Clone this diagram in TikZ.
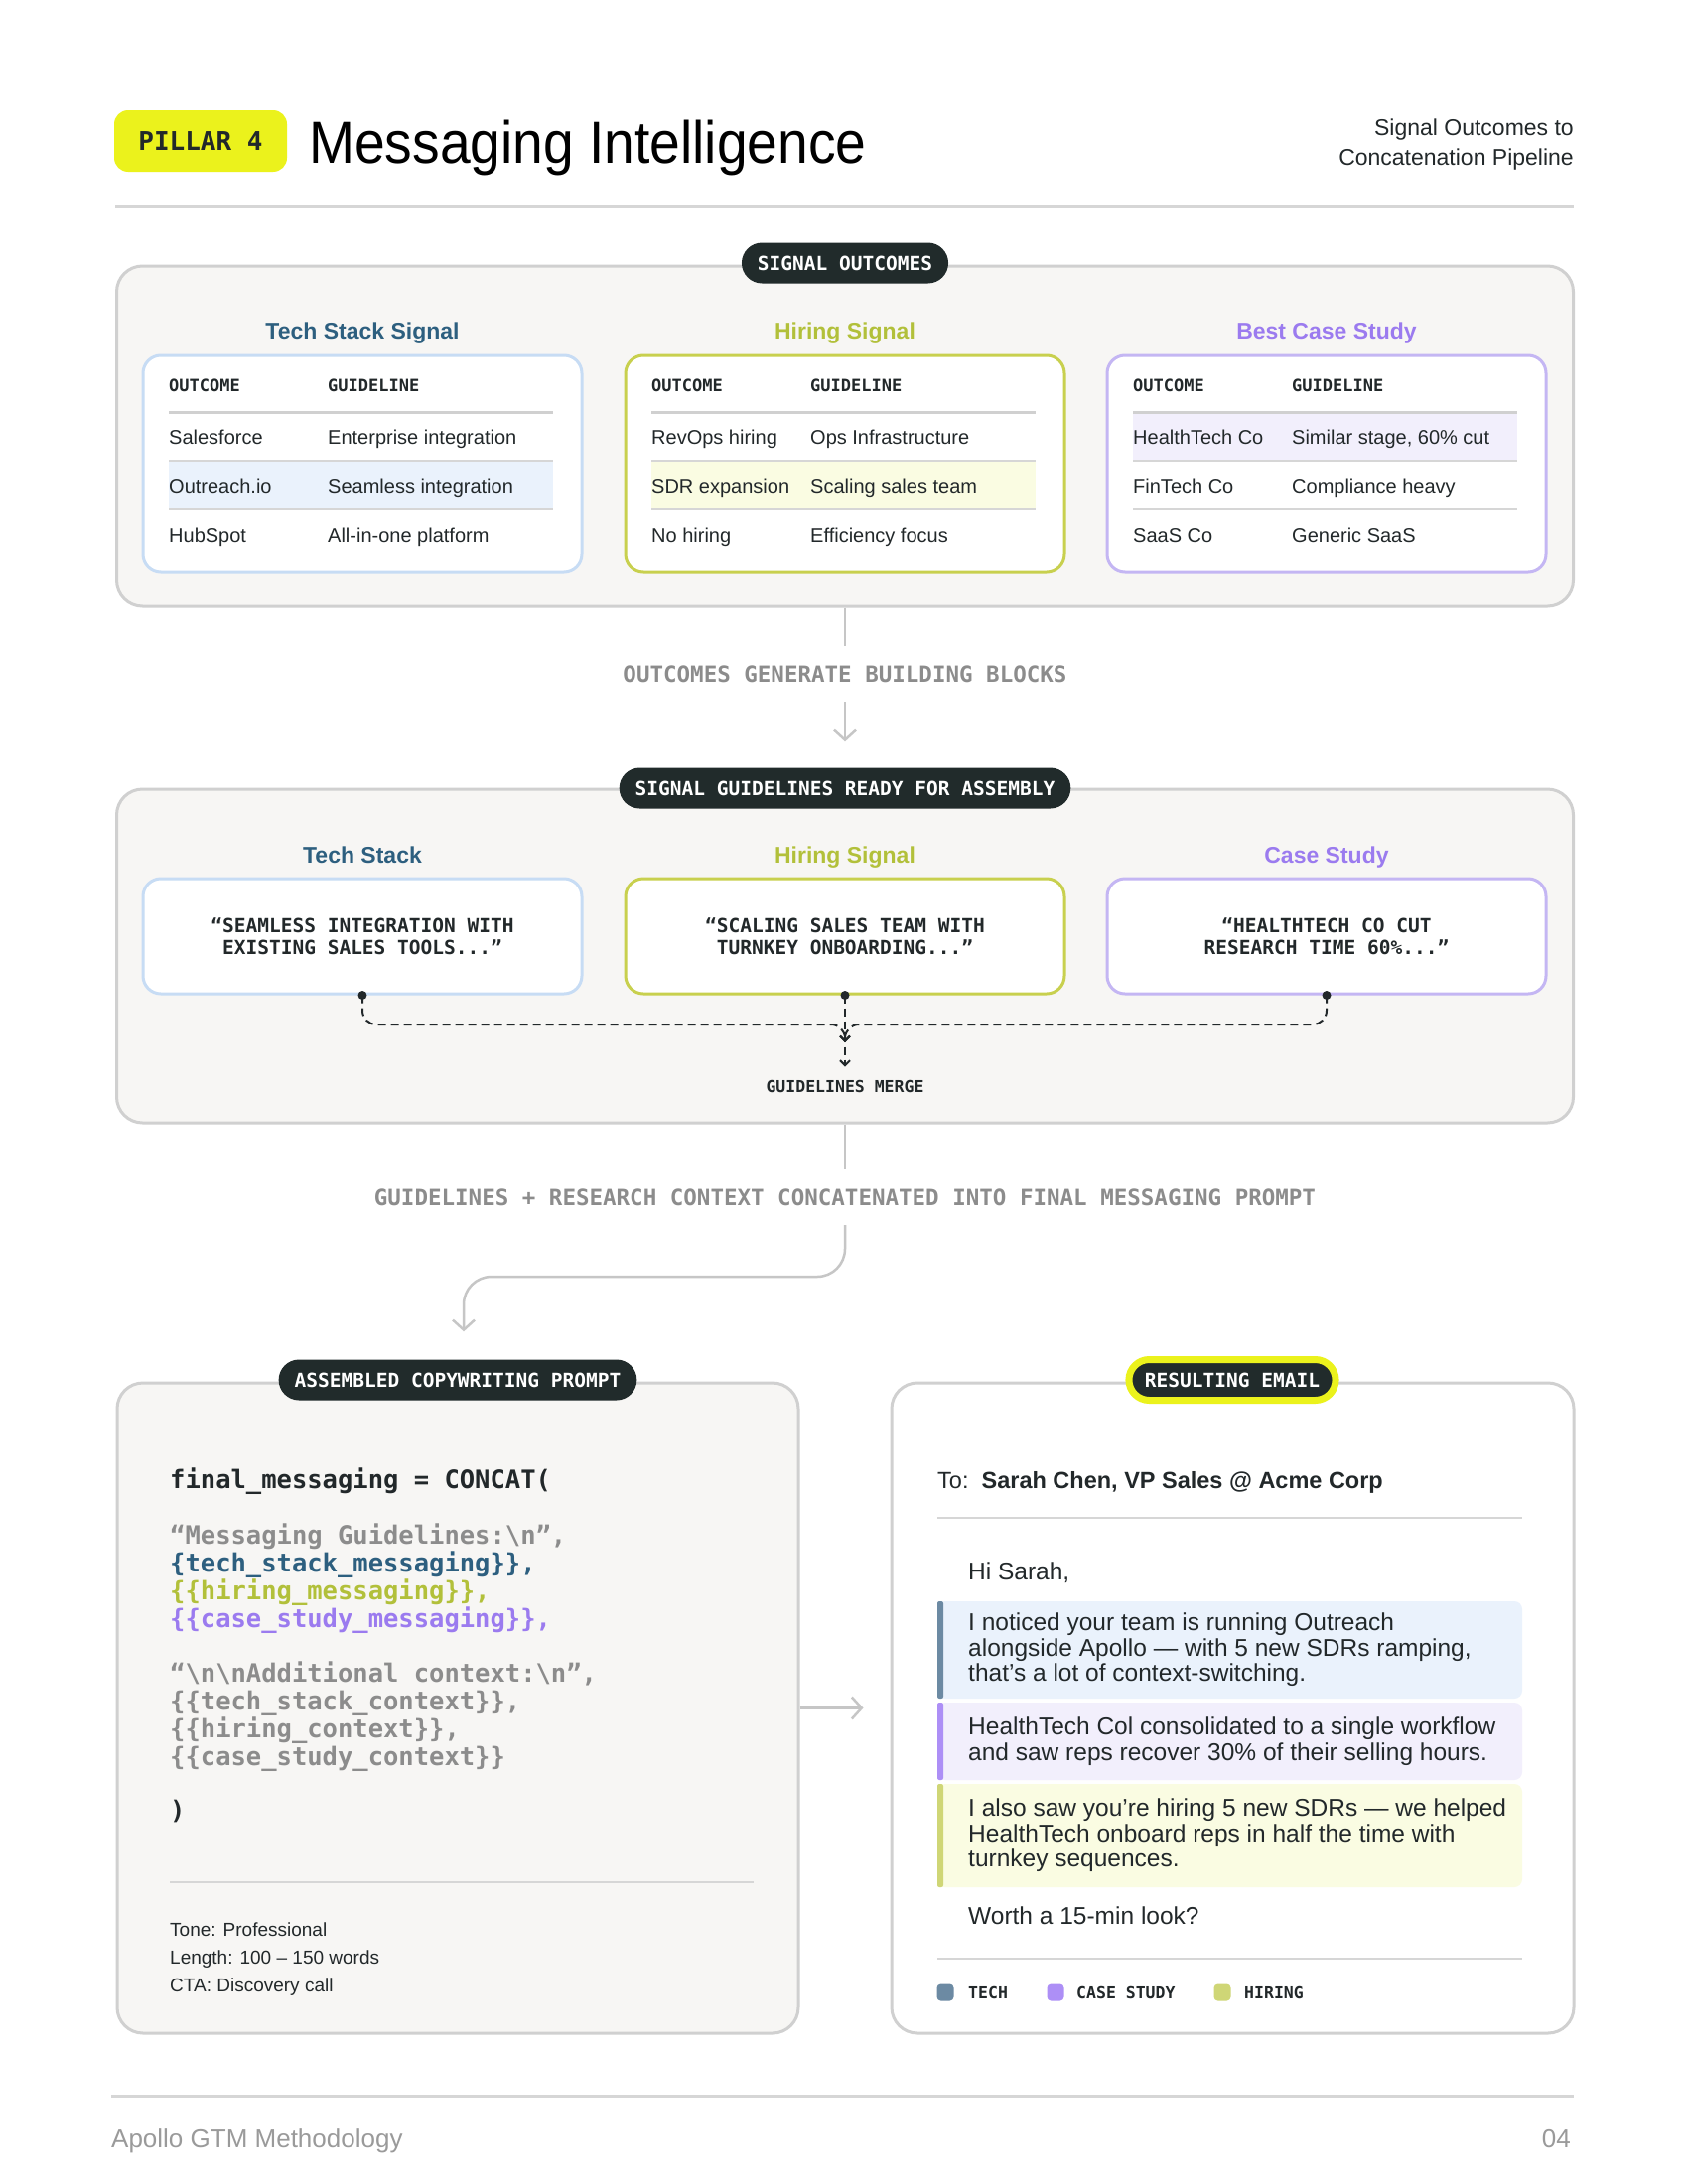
\documentclass[tikz,border=0pt]{standalone}
\usepackage{fontspec}
\setmainfont{Liberation Sans}
\newfontfamily\titlefont[FakeStretch=0.92]{Liberation Sans}
\newfontfamily\codefont{DejaVu Sans Mono}
\usetikzlibrary{arrows.meta,calc,positioning}

\definecolor{ink}{HTML}{22282A}
\definecolor{pillbg}{HTML}{212B2B}
\definecolor{brandyellow}{HTML}{EBF21C}
\definecolor{panelbg}{HTML}{F7F6F4}
\definecolor{panelline}{HTML}{D0D0D0}
\definecolor{rulegray}{HTML}{D6D6D6}
\definecolor{flowgray}{HTML}{C6C6C6}
\definecolor{flowtext}{HTML}{8C8C8C}
\definecolor{techcol}{HTML}{2D5F7F}
\definecolor{hirecol}{HTML}{B2C03A}
\definecolor{casecol}{HTML}{9B7BEF}
\definecolor{techline}{HTML}{C7DCF4}
\definecolor{hireline}{HTML}{C8D04E}
\definecolor{caseline}{HTML}{C4B6F3}
\definecolor{techfill}{HTML}{EAF2FC}
\definecolor{hirefill}{HTML}{FAFCE2}
\definecolor{casefill}{HTML}{F2EFFC}
\definecolor{techbar}{HTML}{6C8AA3}
\definecolor{hirebar}{HTML}{CFD676}
\definecolor{casebar}{HTML}{AD8FF6}
\definecolor{footgray}{HTML}{9A9A9A}

\tikzset{
	panel/.style={draw=panelline, line width=3pt, fill=panelbg, rounded corners=26pt, inner sep=0pt},
	subbox/.style={fill=white, line width=3pt, rounded corners=18pt, minimum width=442pt, inner sep=0pt},
	pill/.style={fill=pillbg, text=white, rounded corners=20.5pt, minimum height=41pt, inner xsep=16pt, inner ysep=0pt, font=\codefont\bfseries\fontsize{19.5}{20}\selectfont},
	sigttl/.style={anchor=base, inner sep=0pt, font=\bfseries\fontsize{23}{25}\selectfont},
	colhead/.style={anchor=base west, inner sep=0pt, text=ink, font=\codefont\bfseries\fontsize{17}{18}\selectfont},
	celltxt/.style={anchor=base west, inner sep=0pt, text=ink, font=\fontsize{20}{22}\selectfont},
	quotebox/.style={align=center, text=ink, font=\codefont\bfseries\fontsize{19.5}{22}\selectfont},
	flowlbl/.style={inner xsep=0pt, inner ysep=19.5pt, text=flowtext, font=\codefont\bfseries\fontsize{22.5}{24}\selectfont},
	flowline/.style={draw=flowgray, line width=2.5pt},
	flowarrow/.style={flowline, -{Straight Barb[length=10pt,width=22pt]}},
	mergeline/.style={draw=ink, line width=2pt, dash pattern=on 8pt off 5pt, rounded corners=14pt, -{Straight Barb[length=5pt,width=10pt]}},
	thickrule/.style={draw=panelline, line width=3pt},
	thinrule/.style={draw=rulegray, line width=1.5pt},
	codeline/.style={anchor=base west, inner sep=0pt, font=\codefont\bfseries\fontsize{25.5}{28}\selectfont},
	notetxt/.style={anchor=base west, inner sep=0pt, text=ink, font=\fontsize{19}{21}\selectfont},
	mailtxt/.style={anchor=west, inner sep=0pt, align=left, text=ink, font=\fontsize{24.5}{25.5}\selectfont},
	mailone/.style={anchor=base west, inner sep=0pt, text=ink, font=\fontsize{24.5}{25.5}\selectfont},
	keydot/.style={minimum size=17pt, inner sep=0pt, rounded corners=4pt},
	legendtxt/.style={anchor=base west, inner sep=0pt, text=ink, font=\codefont\bfseries\fontsize{16.5}{17}\selectfont},
}

\begin{document}
\begin{tikzpicture}[x=1pt,y=-1pt]
	\fill[white] (0,0) rectangle (1700,2200);
	\useasboundingbox (0,0) rectangle (1700,2200);

	\node[fill=brandyellow, rounded corners=14pt, minimum width=174pt, minimum height=62pt, inner sep=0pt, text=ink, font=\codefont\bfseries\fontsize{26}{26}\selectfont] (pillar) at (202,142) {PILLAR 4};
	\node[anchor=base west, inner sep=0pt, text=black, font=\titlefont\fontsize{60}{60}\selectfont] (title) at (311,164) {Messaging Intelligence};
	\node[anchor=base east, inner sep=0pt, text=ink, font=\fontsize{23}{25}\selectfont] (subA) at (1585,136) {Signal Outcomes to};
	\node[anchor=base east, inner sep=0pt, text=ink, font=\fontsize{23}{25}\selectfont] (subB) at (1585,166) {Concatenation Pipeline};
	\draw[draw=rulegray, line width=3pt] (116,208) -- (1585,208);

	\node[panel, minimum width=1467pt, minimum height=342pt] (outpanel) at (851,439) {};
	\node[pill] (outpill) at (851,265) {SIGNAL OUTCOMES};
	\node[sigttl, text=techcol] (techttl) at (365,341) {Tech Stack Signal};
	\node[sigttl, text=hirecol] (hirettl) at (851,341) {Hiring Signal};
	\node[sigttl, text=casecol] (casettl) at (1336,341) {Best Case Study};
	\node[subbox, draw=techline, minimum height=218pt] (techtab) at (365,467) {};
	\node[subbox, draw=hireline, minimum height=218pt] (hiretab) at (851,467) {};
	\node[subbox, draw=caseline, minimum height=218pt] (casetab) at (1336,467) {};
	\fill[techfill] (170,464) rectangle (557,513);
	\fill[hirefill] (656,464) rectangle (1043,513);
	\fill[casefill] (1141,415) rectangle (1528,464);
	\foreach \L in {144,630,1115} {
		\draw[thickrule] (\L+26,415) -- (\L+413,415);
		\draw[thinrule] (\L+26,464) -- (\L+413,464);
		\draw[thinrule] (\L+26,513) -- (\L+413,513);
	}
	\node[colhead] (techhdA) at (170,394) {OUTCOME};
	\node[colhead] (techhdB) at (330,394) {GUIDELINE};
	\node[celltxt] (techA1) at (170,447) {Salesforce};
	\node[celltxt] (techB1) at (330,447) {Enterprise integration};
	\node[celltxt] (techA2) at (170,497) {Outreach.io};
	\node[celltxt] (techB2) at (330,497) {Seamless integration};
	\node[celltxt] (techA3) at (170,546) {HubSpot};
	\node[celltxt] (techB3) at (330,546) {All-in-one platform};
	\node[colhead] (hirehdA) at (656,394) {OUTCOME};
	\node[colhead] (hirehdB) at (816,394) {GUIDELINE};
	\node[celltxt] (hireA1) at (656,447) {RevOps hiring};
	\node[celltxt] (hireB1) at (816,447) {Ops Infrastructure};
	\node[celltxt] (hireA2) at (656,497) {SDR expansion};
	\node[celltxt] (hireB2) at (816,497) {Scaling sales team};
	\node[celltxt] (hireA3) at (656,546) {No hiring};
	\node[celltxt] (hireB3) at (816,546) {Efficiency focus};
	\node[colhead] (casehdA) at (1141,394) {OUTCOME};
	\node[colhead] (casehdB) at (1301,394) {GUIDELINE};
	\node[celltxt] (caseA1) at (1141,447) {HealthTech Co};
	\node[celltxt] (caseB1) at (1301,447) {Similar stage, 60\% cut};
	\node[celltxt] (caseA2) at (1141,497) {FinTech Co};
	\node[celltxt] (caseB2) at (1301,497) {Compliance heavy};
	\node[celltxt] (caseA3) at (1141,546) {SaaS Co};
	\node[celltxt] (caseB3) at (1301,546) {Generic SaaS};

	\node[flowlbl] (blocks) at (851,679) {OUTCOMES GENERATE BUILDING BLOCKS};
	\node[panel, minimum width=1467pt, minimum height=336pt] (guidepanel) at (851,963) {};
	\node[pill] (guidepill) at (851,794) {SIGNAL GUIDELINES READY FOR ASSEMBLY};
	\draw[flowline] (outpanel) -- (blocks);
	\draw[flowarrow, shorten >=27pt] (blocks) -- (guidepill);

	\node[sigttl, text=techcol] (techttl2) at (365,869) {Tech Stack};
	\node[sigttl, text=hirecol] (hirettl2) at (851,869) {Hiring Signal};
	\node[sigttl, text=casecol] (casettl2) at (1336,869) {Case Study};
	\node[subbox, draw=techline, minimum height=116pt, quotebox] (techq) at (365,943) {“SEAMLESS INTEGRATION WITH\\EXISTING SALES TOOLS...”};
	\node[subbox, draw=hireline, minimum height=116pt, quotebox] (hireq) at (851,943) {“SCALING SALES TEAM WITH\\TURNKEY ONBOARDING...”};
	\node[subbox, draw=caseline, minimum height=116pt, quotebox] (caseq) at (1336,943) {“HEALTHTECH CO CUT\\RESEARCH TIME 60\%...”};
	\coordinate (mergebar) at (851,1032);
	\coordinate (mergept) at (851,1050);
	\node[inner xsep=0pt, inner ysep=13pt, text=ink, font=\codefont\bfseries\fontsize{16.5}{17}\selectfont] (mergelbl) at (851,1094) {GUIDELINES MERGE};
	\draw[mergeline] (techq.south) -- (techq.south |- mergebar) -- (mergebar) -- (mergept);
	\draw[mergeline] (caseq.south) -- (caseq.south |- mergebar) -- (mergebar) -- (mergept);
	\draw[mergeline] (hireq.south) -- (mergelbl);
	\fill[ink] (techq.south) circle (4.5pt);
	\fill[ink] (hireq.south) circle (4.5pt);
	\fill[ink] (caseq.south) circle (4.5pt);

	\node[flowlbl] (concat) at (851,1206) {GUIDELINES + RESEARCH CONTEXT CONCATENATED INTO FINAL MESSAGING PROMPT};
	\draw[flowline] (guidepanel) -- (concat);

	\node[panel, minimum width=686pt, minimum height=655pt] (asmpanel) at (461,1720.5) {};
	\node[pill] (asmpill) at (461,1390) {ASSEMBLED COPYWRITING PROMPT};
	\coordinate (bend) at (467,1286);
	\draw[flowarrow, rounded corners=28pt] (concat.south) -- (concat.south |- bend) -- (bend) -- ($(asmpill.north)+(6,-28)$);
	\node[codeline, text=ink] (code1) at (171,1499) {final\_messaging = CONCAT(};
	\node[codeline, text=flowtext] (code2) at (171,1555) {“Messaging Guidelines:\textbackslash n”,};
	\node[codeline, text=techcol] (code3) at (171,1583) {\{tech\_stack\_messaging\}\},};
	\node[codeline, text=hirecol] (code4) at (171,1611) {\{\{hiring\_messaging\}\},};
	\node[codeline, text=casecol] (code5) at (171,1639) {\{\{case\_study\_messaging\}\},};
	\node[codeline, text=flowtext] (code6) at (171,1694) {“\textbackslash n\textbackslash nAdditional context:\textbackslash n”,};
	\node[codeline, text=flowtext] (code7) at (171,1722) {\{\{tech\_stack\_context\}\},};
	\node[codeline, text=flowtext] (code8) at (171,1750) {\{\{hiring\_context\}\},};
	\node[codeline, text=flowtext] (code9) at (171,1778) {\{\{case\_study\_context\}\}};
	\node[codeline, text=ink] (code10) at (171,1832) {)};
	\draw[thinrule] (171,1896) -- (759,1896);
	\node[notetxt] (tone) at (171,1950) {Tone: Professional};
	\node[notetxt] (length) at (171,1978) {Length: 100 – 150 words};
	\node[notetxt] (cta) at (171,2006) {CTA: Discovery call};

	\node[panel, fill=white, minimum width=687pt, minimum height=655pt] (mailpanel) at (1241.5,1720.5) {};
	\node[pill, draw=brandyellow, line width=7pt] (mailpill) at (1241,1390) {RESULTING EMAIL};
	\draw[flowarrow, shorten >=27pt] (asmpanel) -- (mailpanel);
	\node[anchor=base west, inner sep=0pt, text=ink, font=\fontsize{23.5}{25}\selectfont] (mailto) at (944,1499) {To:\ \ \textbf{Sarah Chen, VP Sales @ Acme Corp}};
	\draw[thinrule] (944,1529) -- (1533,1529);
	\node[mailone] (greet) at (975,1591) {Hi Sarah,};
	\fill[techfill, rounded corners=8pt] (944,1613) rectangle (1533,1711);
	\fill[techbar, rounded corners=2pt] (944,1613) rectangle (950,1711);
	\node[mailtxt] (paraA) at (975,1662) {I noticed your team is running Outreach\\alongside Apollo — with 5 new SDRs ramping,\\that’s a lot of context-switching.};
	\fill[casefill, rounded corners=8pt] (944,1715) rectangle (1533,1793);
	\fill[casebar, rounded corners=2pt] (944,1715) rectangle (950,1793);
	\node[mailtxt] (paraB) at (975,1754) {HealthTech Col consolidated to a single workflow\\and saw reps recover 30\% of their selling hours.};
	\fill[hirefill, rounded corners=8pt] (944,1797) rectangle (1533,1901);
	\fill[hirebar, rounded corners=2pt] (944,1797) rectangle (950,1901);
	\node[mailtxt] (paraC) at (975,1849) {I also saw you’re hiring 5 new SDRs — we helped\\HealthTech onboard reps in half the time with\\turnkey sequences.};
	\node[mailone] (worth) at (975,1938) {Worth a 15-min look?};
	\draw[thinrule] (944,1973) -- (1533,1973);
	\node[keydot, fill=techbar] (dotT) at (952,2007) {};
	\node[legendtxt] (keyT) at (975,2013) {TECH};
	\node[keydot, fill=casebar] (dotC) at (1063,2007) {};
	\node[legendtxt] (keyC) at (1084,2013) {CASE STUDY};
	\node[keydot, fill=hirebar] (dotH) at (1231,2007) {};
	\node[legendtxt] (keyH) at (1253,2013) {HIRING};

	\draw[draw=rulegray, line width=3pt] (112,2111) -- (1585,2111);
	\node[anchor=base west, inner sep=0pt, text=footgray, font=\fontsize{26}{28}\selectfont] (foot) at (112,2163) {Apollo GTM Methodology};
	\node[anchor=base east, inner sep=0pt, text=footgray, font=\fontsize{26}{28}\selectfont] (pagenum) at (1582,2163) {04};
\end{tikzpicture}
\end{document}
